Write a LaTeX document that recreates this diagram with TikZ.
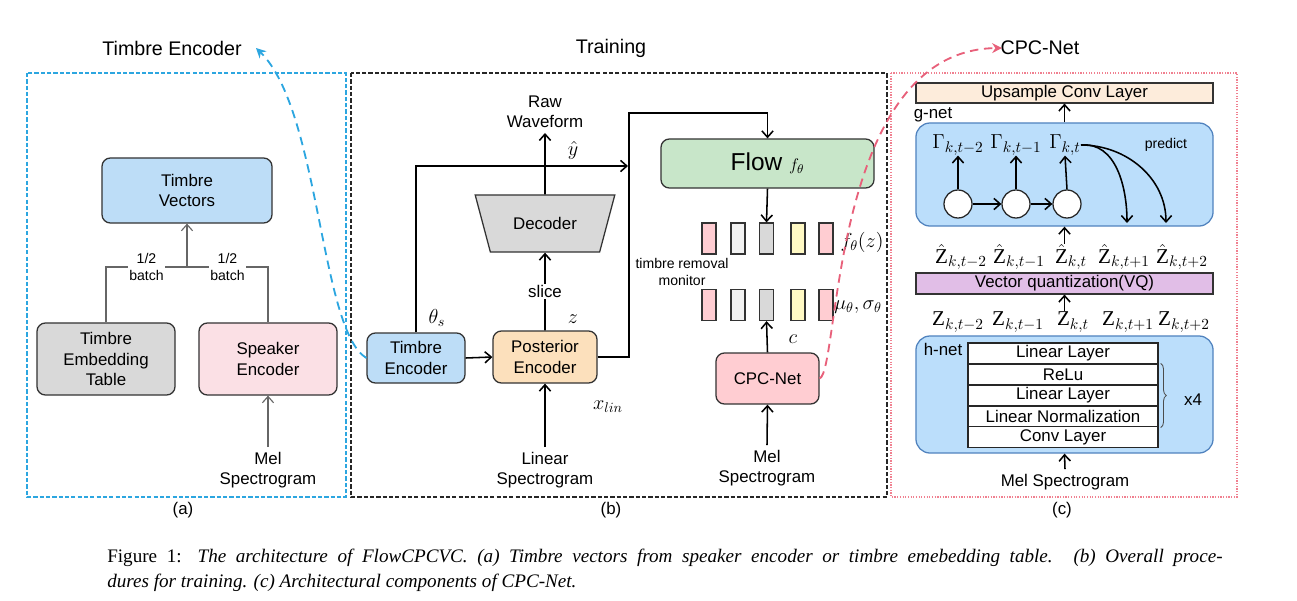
\documentclass[tikz,border=0pt]{standalone}
\usepackage{fontspec}
\setmainfont{Liberation Serif}
\setsansfont{Liberation Sans}
\usepackage{amsmath}
\usepackage{xcolor}
\usetikzlibrary{arrows.meta,shapes.geometric,decorations.pathreplacing}

\definecolor{tvblue}{RGB}{189,221,247}
\definecolor{embgray}{RGB}{217,217,217}
\definecolor{spkpink}{RGB}{251,224,229}
\definecolor{postorange}{RGB}{252,224,188}
\definecolor{flowgreen}{RGB}{200,230,201}
\definecolor{cpcpink}{RGB}{255,205,210}
\definecolor{netblue}{RGB}{187,222,251}
\definecolor{netborder}{RGB}{80,130,190}
\definecolor{upbeige}{RGB}{253,236,219}
\definecolor{vqpurple}{RGB}{225,190,231}
\definecolor{barlight}{RGB}{242,242,242}
\definecolor{baryellow}{RGB}{255,249,196}
\definecolor{framea}{RGB}{44,166,224}
\definecolor{framec}{RGB}{240,128,144}
\definecolor{curvec}{RGB}{232,96,122}

\begin{document}
\begin{tikzpicture}[x=0.025cm, y=-0.025cm,
    font=\sffamily\fontsize{12}{14.4}\selectfont,
    box/.style={draw=black!80, line width=0.9pt, rounded corners=6pt, align=center, inner sep=1pt},
    plain/.style={draw=black!80, line width=0.8pt, align=center, inner sep=0pt},
    bar/.style={draw=black!80, line width=0.9pt, minimum width=0.35cm, minimum height=0.775cm, inner sep=0pt},
    layer/.style={draw=black!85, fill=white, line width=0.8pt, minimum width=4.75cm, minimum height=0.525cm, inner sep=0pt},
    circ/.style={circle, draw=black!85, fill=white, line width=0.9pt, minimum size=0.7cm, inner sep=0pt},
    net/.style={draw=netborder, fill=netblue, line width=0.9pt, rounded corners=10pt},
    arr/.style={-{Straight Barb[length=4.5pt,width=8pt]}, line width=1.1pt},
    garr/.style={-{Straight Barb[length=4.5pt,width=8pt]}, draw=black!60, line width=0.8pt},
    gline/.style={draw=black!60, line width=0.8pt},
    lbl/.style={align=center},
    small/.style={font=\sffamily\fontsize{10}{12}\selectfont, align=center},
    title/.style={font=\sffamily\fontsize{14}{16}\selectfont},
    mlbl/.style={font=\fontsize{14}{16}\selectfont, inner sep=1pt},
    zlbl/.style={font=\fontsize{15}{17}\selectfont, inner sep=0pt},
  ]
  \useasboundingbox (0,0) rectangle (1297,600);

  % frames
  \draw[framea, line width=0.9pt, dash pattern=on 3pt off 1.5pt] (27,73) rectangle (346,497);
  \draw[black!85, line width=0.9pt, dash pattern=on 3pt off 1.5pt] (351,73) rectangle (887,497);
  \draw[framec, line width=0.9pt, densely dotted] (891,73) rectangle (1237,497);

  \node[title] (ttla) at (172,48) {Timbre Encoder};
  \node[title] (ttlb) at (611,48) {Training};
  \node[title] (ttlc) at (1040,48) {CPC-Net};
  \node (suba) at (183,510) {(a)};
  \node (subb) at (611,510) {(b)};
  \node (subc) at (1062,510) {(c)};

  % (a)
  \node[box, fill=tvblue, minimum width=4.25cm, minimum height=1.625cm] (tvec) at (187,190.5) {Timbre\\Vectors};
  \node[box, fill=embgray, minimum width=3.45cm, minimum height=1.8cm] (temb) at (106,359) {Timbre\\Embedding\\Table};
  \node[box, fill=spkpink, minimum width=3.45cm, minimum height=1.8cm] (spk) at (268,359) {Speaker\\Encoder};
  \node[lbl] (mela) at (268,470) {Mel\\Spectrogram};
  \coordinate (jnc) at (187,267);
  \draw[garr] (jnc) -- (tvec.south);
  \draw[gline] (temb.north) |- (jnc) node[pos=0.75, small, fill=white, inner sep=1pt] {1/2\\batch};
  \draw[gline] (jnc) -| (spk.north) node[pos=0.25, small, fill=white, inner sep=1pt] {1/2\\batch};
  \draw[garr] (mela.north) -- (spk.south);

  % (b)
  \node[box, fill=tvblue, minimum width=2.45cm, minimum height=1.25cm] (tenc) at (416,358) {Timbre\\Encoder};
  \node[box, fill=postorange, minimum width=2.6cm, minimum height=1.3cm] (post) at (545,357) {Posterior\\Encoder};
  \node[trapezium, shape border rotate=180, trapezium angle=65, trapezium stretches=true,
    minimum width=3.5cm, minimum height=1.425cm, draw=black!80, line width=0.9pt, fill=embgray] (dec) at (545,223.5) {Decoder};
  \node[lbl] (raw) at (545,112) {Raw\\Waveform};
  \node[lbl] (lin) at (545,470) {Linear\\Spectrogram};
  \node[box, fill=flowgreen, minimum width=5.325cm, minimum height=1.225cm] (flow) at (767.5,163.5)
    {\fontsize{17.4}{20}\selectfont Flow {\fontsize{13}{14}\selectfont$f_{\theta}$}};
  \node[box, fill=cpcpink, minimum width=2.575cm, minimum height=1.275cm] (cpc) at (767.5,378.5) {CPC-Net};
  \node[lbl] (melb) at (767,468) {Mel\\Spectrogram};
  \foreach \x/\c [count=\i] in {709/cpcpink,738/barlight,766.5/embgray,798/baryellow,826/cpcpink}{
    \node[bar, fill=\c] (t\i) at (\x,238.5) {};
    \node[bar, fill=\c] (b\i) at (\x,305) {};
  }
  \node[small] (mon) at (682,272) {timbre removal\\monitor};

  \node[mlbl] (theta) at (437,318) {$\theta_s$};
  \node[mlbl] (zl) at (573,319) {$z$};
  \node[mlbl] (yhat) at (573,150) {$\hat{y}$};
  \node[mlbl] (xlin) at (608,407) {$x_{lin}$};
  \node[mlbl] (fz) at (862,242) {$f_{\theta}(z)$};
  \node[mlbl] (musig) at (858,307) {$\mu_{\theta},\sigma_{\theta}$};
  \node[mlbl] (cl) at (793,339) {$c$};

  \coordinate (jct) at (629,113);
  \coordinate (yin) at (628,166);
  \draw[arr] (tenc.east) -- (post.west);
  \draw[arr] (tenc.north) |- (yin);
  \draw[arr] (post.north) -- (dec.south) node[midway, fill=white, inner sep=1pt] {slice};
  \draw[arr] (dec.north) -- (raw.south);
  \draw[arr] (lin.north) -- (post.south);
  \draw[arr] (post.east) -| (jct) -| (flow.north);
  \draw[arr] (flow.south) -- (t3.north);
  \draw[arr] (cpc.north) -- (b3.south);
  \draw[arr] (melb.north) -- (cpc.south);

  % (c)
  \node[plain, fill=upbeige, minimum width=7.425cm, minimum height=0.5cm] (up) at (1064.5,93) {Upsample Conv Layer};
  \node[net, minimum width=7.425cm, minimum height=2.575cm] (gnet) at (1064.5,174.5) {};
  \node (gl) at (933,115) {g-net};
  \node[plain, fill=vqpurple, minimum width=7.425cm, minimum height=0.525cm] (vq) at (1064.5,283.5) {Vector quantization(VQ)};
  \node[net, minimum width=7.425cm, minimum height=2.925cm] (hnet) at (1064.5,394.5) {};
  \node (hl) at (943,349) {h-net};
  \node[layer] (l1) at (1063,353.5) {Linear Layer};
  \node[layer] (l2) at (1063,374.5) {ReLu};
  \node[layer] (l3) at (1063,395.5) {Linear Layer};
  \node[layer] (l4) at (1063,416.5) {Linear Normalization};
  \node[layer] (l5) at (1063,437) {Conv Layer};
  \draw[black!70, line width=0.6pt, decorate, decoration={brace, amplitude=4pt}]
    ([xshift=1.5pt]l2.north east) -- ([xshift=1.5pt]l4.south east);
  \node (x4) at (1193,400) {x4};
  \node (melc) at (1065,482) {Mel Spectrogram};

  \node[circ] (c1) at (958,204) {};
  \node[circ] (c2) at (1016,204) {};
  \node[circ] (c3) at (1067,204) {};
  \node[zlbl] (g1) at (958,145) {$\Gamma_{k,t-2}$};
  \node[zlbl] (g2) at (1016,145) {$\Gamma_{k,t-1}$};
  \node[zlbl] (g3) at (1065,145) {$\Gamma_{k,t}$};
  \node[small] (pred) at (1166,145) {predict};
  \coordinate (p1) at (1127,223);
  \coordinate (p2) at (1166,223);

  \node[zlbl] (zh1) at (961,257) {$\hat{\mathrm{Z}}_{k,t-2}$};
  \node[zlbl] (zh2) at (1019,257) {$\hat{\mathrm{Z}}_{k,t-1}$};
  \node[zlbl] (zh3) at (1071,257) {$\hat{\mathrm{Z}}_{k,t}$};
  \node[zlbl] (zh4) at (1124,257) {$\hat{\mathrm{Z}}_{k,t+1}$};
  \node[zlbl] (zh5) at (1182,257) {$\hat{\mathrm{Z}}_{k,t+2}$};
  \node[zlbl] (z1) at (958,322) {$\mathrm{Z}_{k,t-2}$};
  \node[zlbl] (z2) at (1018,322) {$\mathrm{Z}_{k,t-1}$};
  \node[zlbl] (z3) at (1073,322) {$\mathrm{Z}_{k,t}$};
  \node[zlbl] (z4) at (1128,322) {$\mathrm{Z}_{k,t+1}$};
  \node[zlbl] (z5) at (1184,322) {$\mathrm{Z}_{k,t+2}$};

  \draw[arr] (c1) -- (c2);
  \draw[arr] (c2) -- (c3);
  \draw[arr] (c1.north) -- (g1.south);
  \draw[arr] (c2.north) -- (g2.south);
  \draw[arr] (c3.north) -- (g3.south);
  \draw[arr] (g3.east) to[out=5, in=90] (p1);
  \draw[arr] (g3.east) to[out=0, in=90] (p2);
  \draw[arr] (gnet.north) -- (up.south);
  \draw[arr] (gnet.south |- zh3.north) -- (gnet.south);
  \draw[arr] (vq.south |- z3.north) -- (vq.south);
  \draw[arr] (melc.north) -- (hnet.south);

  % links between panels
  \coordinate (tipa) at (256,48);
  \coordinate (tipc) at (1002,48);
  \draw[framea, line width=1.3pt, dash pattern=on 6pt off 4pt, -{Stealth[length=7pt,width=7pt]}]
    (tenc.west) .. controls (320,330) and (320,110) .. (tipa);
  \draw[curvec, line width=1.3pt, dash pattern=on 6pt off 4pt, -{Stealth[length=7pt,width=7pt]}]
    (cpc.east) .. controls (840,370) and (830,50) .. (tipc);

  % caption
  \node[anchor=west, inner sep=0pt, font=\rmfamily\fontsize{13.6}{16}\selectfont] (cap1) at (107,558)
    {\makebox[27.875cm][s]{Figure 1: \textit{The architecture of FlowCPCVC. (a) Timbre vectors from speaker encoder or timbre emebedding table. (b) Overall proce-}}};
  \node[anchor=west, inner sep=0pt, font=\rmfamily\fontsize{13.6}{16}\selectfont] (cap2) at (107,583)
    {\textit{dures for training. (c) Architectural components of CPC-Net.}};
\end{tikzpicture}
\end{document}
